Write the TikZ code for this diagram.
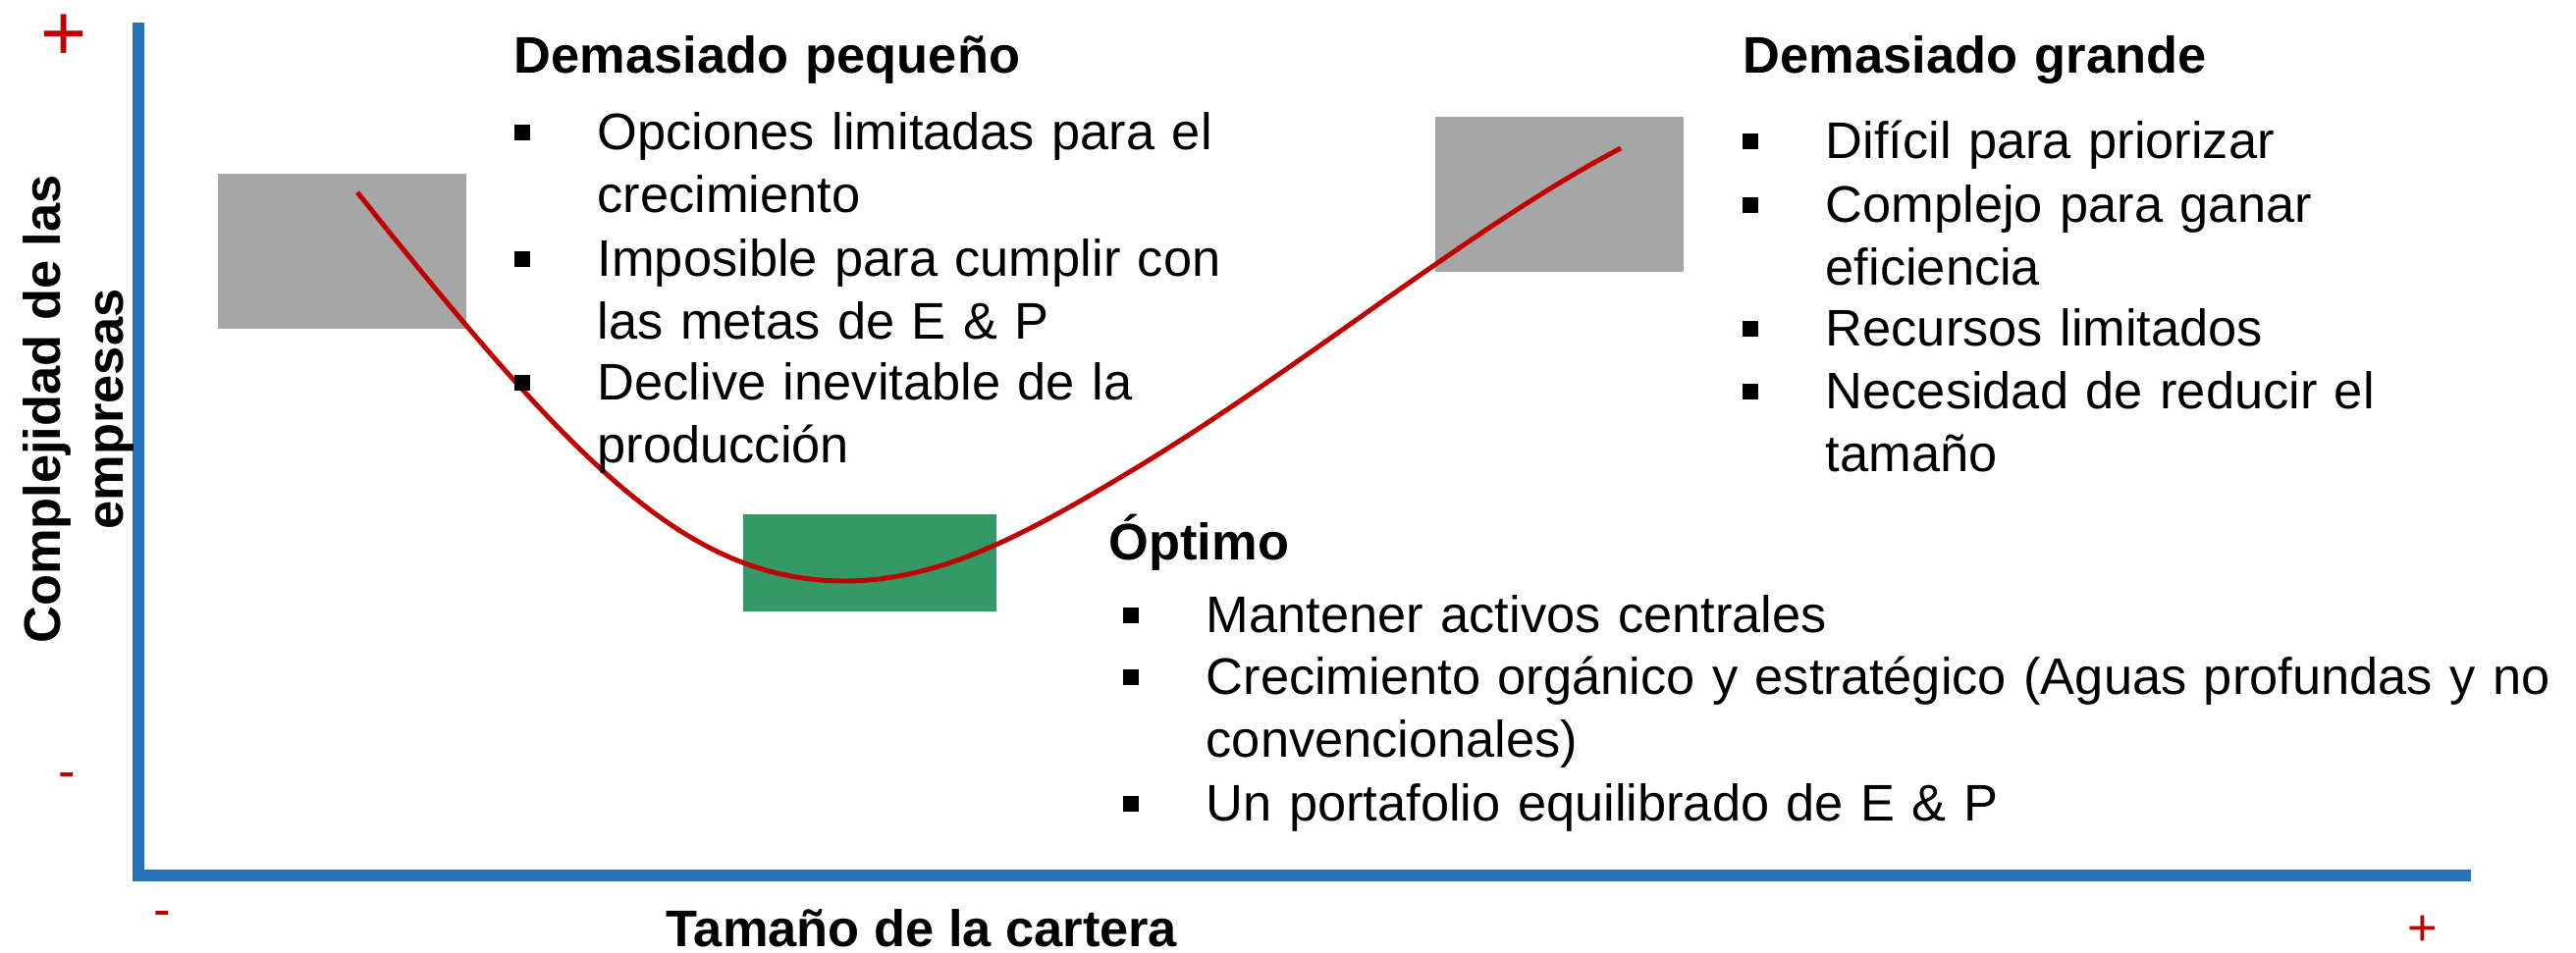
\documentclass[tikz,border=0pt]{standalone}
\usepackage{fontspec}
\setmainfont{Liberation Sans}
\definecolor{axisblue}{RGB}{38,115,187}
\definecolor{curvered}{RGB}{192,0,0}
\definecolor{boxgray}{RGB}{166,166,166}
\definecolor{boxgreen}{RGB}{51,153,102}

\begin{document}
\begin{tikzpicture}[x=0.01cm,y=-0.01cm,
	txt/.style={anchor=base west, inner sep=0pt, align=left, text width=14cm, font=\fontsize{14.9}{18.2}\selectfont},
	head/.style={txt, font=\fontsize{14.9}{18.2}\selectfont\bfseries},
	bul/.style={fill=black, inner sep=0pt, minimum size=0.16cm},
	sign/.style={anchor=base, inner sep=0pt, text=curvered}]

	\useasboundingbox (0,0) rectangle (2624,971);

	% Boxes
	\fill [boxgray] (222,177) rectangle (475,335);
	\fill [boxgray] (1462,119) rectangle (1715,277);
	\fill [boxgreen] (757,524) rectangle (1015,623);

	% Axes
	\draw [axisblue, line width=3.4pt, line join=miter] (141,23) -- (141,892) -- (2517,892);
	\node [sign, font=\fontsize{23}{23}\selectfont] (ytop) at (65,62) {+};
	\node [sign, font=\fontsize{15}{15}\selectfont] (ybot) at (68,804) {-};
	\node [sign, font=\fontsize{15}{15}\selectfont] (xleft) at (165,945) {-};
	\node [sign, font=\fontsize{15}{15}\selectfont] (xright) at (2468,964) {+};
	\node [font=\fontsize{14.9}{18.2}\selectfont\bfseries, align=center, rotate=90, inner sep=0pt] (ylab) at (80,417) {Complejidad de las\\empresas};
	\node [font=\fontsize{14.9}{18.2}\selectfont\bfseries, anchor=base, inner sep=0pt] (xlab) at (939,965) {Tamaño de la cartera};

	% Curve
	\draw [curvered, line width=1.4pt] (364,196) .. controls (586,474) and (700,592) .. (861,592)
		.. controls (961,592) and (1052,540) .. (1152,480)
		.. controls (1322,378) and (1500,230) .. (1651,151);

	% Too small
	\node [head] (small) at (523,75) {Demasiado pequeño};
	\node [txt] (s1) at (608,153) {Opciones limitadas para el\\crecimiento};
	\node [txt] (s2) at (608,282) {Imposible para cumplir con\\las metas de E \& P};
	\node [txt] (s3) at (608,408) {Declive inevitable de la\\producción};

	% Too big
	\node [head] (big) at (1775,75) {Demasiado grande};
	\node [txt] (l1) at (1859,162) {Difícil para priorizar};
	\node [txt] (l2) at (1859,227) {Complejo para ganar\\eficiencia};
	\node [txt] (l3) at (1859,353) {Recursos limitados};
	\node [txt] (l4) at (1859,417) {Necesidad de reducir el\\tamaño};

	% Optimum
	\node [head] (opt) at (1129,571) {Óptimo};
	\node [txt] (o1) at (1228,645) {Mantener activos centrales};
	\node [txt] (o2) at (1228,708) {Crecimiento orgánico y estratégico (Aguas profundas y no\\convencionales)};
	\node [txt] (o3) at (1228,837) {Un portafolio equilibrado de E \& P};

	% Bullets
	\foreach \t in {s1,s2,s3,l1,l2,l3,l4,o1,o2,o3}
		\node [bul] (\t b) at ([xshift=-0.76cm,yshift=0.18cm]\t.base west) {};

\end{tikzpicture}
\end{document}
